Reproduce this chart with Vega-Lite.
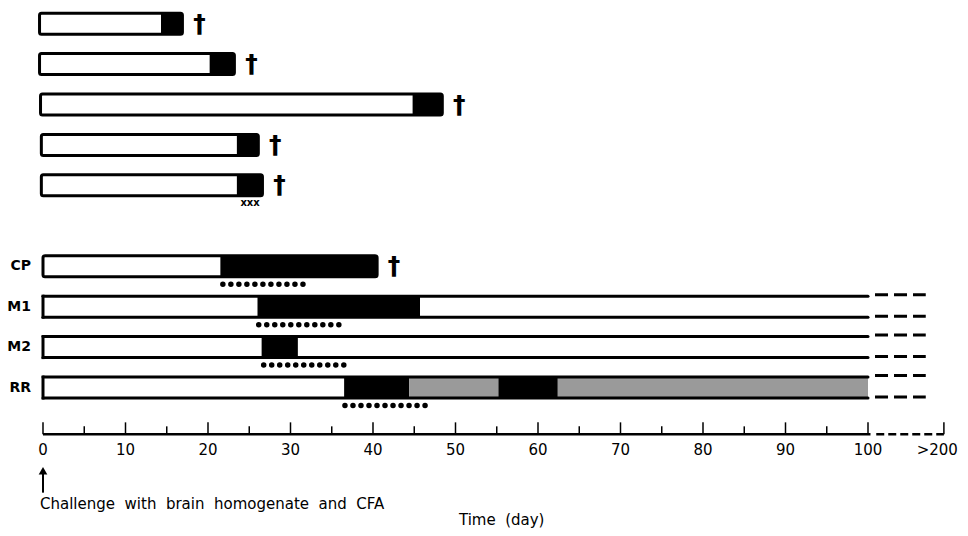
{
  "$schema": "https://vega.github.io/schema/vega-lite/v6.json",
  "width": 968,
  "height": 536,
  "autosize": {"type": "none"},
  "padding": 0,
  "background": "white",
  "config": {"view": {"stroke": null}, "text": {"font": "DejaVu Sans", "color": "black"}},
  "datasets": {
    "rows": [
      {"lane": 0, "label": "", "start": -0.42, "end": 16.9, "outcome": "died"},
      {"lane": 1, "label": "", "start": -0.42, "end": 23.2, "outcome": "died"},
      {"lane": 2, "label": "", "start": -0.3, "end": 48.4, "outcome": "died"},
      {"lane": 3, "label": "", "start": -0.2, "end": 26.1, "outcome": "died"},
      {"lane": 4, "label": "", "start": -0.2, "end": 26.6, "outcome": "died"},
      {"lane": 6, "label": "CP", "start": 0, "end": 40.5, "outcome": "died", "dotFrom": 21.8, "dotTo": 31.55},
      {"lane": 7, "label": "M1", "start": 0, "end": 100, "outcome": "survived", "dotFrom": 26.15, "dotTo": 35.9},
      {"lane": 8, "label": "M2", "start": 0, "end": 100, "outcome": "survived", "dotFrom": 26.75, "dotTo": 36.5},
      {"lane": 9, "label": "RR", "start": 0, "end": 100, "outcome": "survived", "dotFrom": 36.6, "dotTo": 46.5}
    ],
    "segments": [
      {"lane": 0, "from": -0.42, "to": 14.3, "state": "white"},
      {"lane": 0, "from": 14.3, "to": 16.9, "state": "black"},
      {"lane": 1, "from": -0.42, "to": 20.2, "state": "white"},
      {"lane": 1, "from": 20.2, "to": 23.2, "state": "black"},
      {"lane": 2, "from": -0.3, "to": 44.8, "state": "white"},
      {"lane": 2, "from": 44.8, "to": 48.4, "state": "black"},
      {"lane": 3, "from": -0.2, "to": 23.5, "state": "white"},
      {"lane": 3, "from": 23.5, "to": 26.1, "state": "black"},
      {"lane": 4, "from": -0.2, "to": 23.5, "state": "white"},
      {"lane": 4, "from": 23.5, "to": 26.6, "state": "black"},
      {"lane": 6, "from": 0, "to": 21.5, "state": "white"},
      {"lane": 6, "from": 21.5, "to": 40.5, "state": "black"},
      {"lane": 7, "from": 0, "to": 26.0, "state": "white"},
      {"lane": 7, "from": 26.0, "to": 45.7, "state": "black"},
      {"lane": 7, "from": 45.7, "to": 100, "state": "white"},
      {"lane": 8, "from": 0, "to": 26.5, "state": "white"},
      {"lane": 8, "from": 26.5, "to": 30.9, "state": "black"},
      {"lane": 8, "from": 30.9, "to": 100, "state": "white"},
      {"lane": 9, "from": 0, "to": 36.5, "state": "white"},
      {"lane": 9, "from": 36.5, "to": 44.4, "state": "black"},
      {"lane": 9, "from": 44.4, "to": 55.2, "state": "stipple"},
      {"lane": 9, "from": 55.2, "to": 62.4, "state": "black"},
      {"lane": 9, "from": 62.4, "to": 100, "state": "stipple"}
    ],
    "notes": [{"lane": 4, "day": 25.1, "text": "xxx"}],
    "ticks": [
      {"day": 0, "kind": "major"}, {"day": 5, "kind": "minor"}, {"day": 10, "kind": "major"}, {"day": 15, "kind": "minor"},
      {"day": 20, "kind": "major"}, {"day": 25, "kind": "minor"}, {"day": 30, "kind": "major"}, {"day": 35, "kind": "minor"},
      {"day": 40, "kind": "major"}, {"day": 45, "kind": "minor"}, {"day": 50, "kind": "major"}, {"day": 55, "kind": "minor"},
      {"day": 60, "kind": "major"}, {"day": 65, "kind": "minor"}, {"day": 70, "kind": "major"}, {"day": 75, "kind": "minor"},
      {"day": 80, "kind": "major"}, {"day": 85, "kind": "minor"}, {"day": 90, "kind": "major"}, {"day": 95, "kind": "minor"},
      {"day": 100, "kind": "major"}, {"day": 109.2, "kind": "major"}
    ],
    "tickLabels": [
      {"day": 0, "label": "0"}, {"day": 10, "label": "10"}, {"day": 20, "label": "20"}, {"day": 30, "label": "30"},
      {"day": 40, "label": "40"}, {"day": 50, "label": "50"}, {"day": 60, "label": "60"}, {"day": 70, "label": "70"},
      {"day": 80, "label": "80"}, {"day": 90, "label": "90"}, {"day": 100, "label": "100"}, {"day": 108.4, "label": ">200"}
    ],
    "single": [{}]
  },
  "layer": [
    {
      "data": {"name": "segments"},
      "mark": {"type": "bar", "size": 21, "orient": "horizontal", "strokeWidth": 0},
      "encoding": {
        "x": {"field": "from", "type": "quantitative", "scale": {"domain": [-5.2121, 112.1212], "nice": false, "zero": false}, "axis": null},
        "x2": {"field": "to"},
        "y": {"field": "lane", "type": "quantitative", "scale": {"domain": [-0.4612, 12.5485], "nice": false, "zero": false, "reverse": true}, "axis": null},
        "color": {"field": "state", "type": "nominal", "scale": {"domain": ["white", "black", "stipple"], "range": ["#ffffff", "#000000", "#9a9a9a"]}, "legend": null}
      }
    },
    {
      "data": {"name": "rows"},
      "transform": [{"filter": "datum.outcome === 'died'"}],
      "mark": {"type": "bar", "size": 21, "orient": "horizontal", "fill": "transparent", "stroke": "black", "strokeWidth": 3, "cornerRadius": 2},
      "encoding": {
        "x": {"field": "start", "type": "quantitative", "scale": {"domain": [-5.2121, 112.1212], "nice": false, "zero": false}, "axis": null},
        "x2": {"field": "end"},
        "y": {"field": "lane", "type": "quantitative", "scale": {"domain": [-0.4612, 12.5485], "nice": false, "zero": false, "reverse": true}, "axis": null}
      }
    },
    {
      "data": {"name": "rows"},
      "transform": [{"filter": "datum.outcome === 'survived'"}],
      "mark": {"type": "rule", "strokeWidth": 3, "strokeCap": "round", "color": "black", "yOffset": -10.5},
      "encoding": {
        "x": {"field": "start", "type": "quantitative", "scale": {"domain": [-5.2121, 112.1212], "nice": false, "zero": false}, "axis": null},
        "x2": {"field": "end"},
        "y": {"field": "lane", "type": "quantitative", "scale": {"domain": [-0.4612, 12.5485], "nice": false, "zero": false, "reverse": true}, "axis": null}
      }
    },
    {
      "data": {"name": "rows"},
      "transform": [{"filter": "datum.outcome === 'survived'"}],
      "mark": {"type": "rule", "strokeWidth": 3, "strokeCap": "round", "color": "black", "yOffset": 10.5},
      "encoding": {
        "x": {"field": "start", "type": "quantitative", "scale": {"domain": [-5.2121, 112.1212], "nice": false, "zero": false}, "axis": null},
        "x2": {"field": "end"},
        "y": {"field": "lane", "type": "quantitative", "scale": {"domain": [-0.4612, 12.5485], "nice": false, "zero": false, "reverse": true}, "axis": null}
      }
    },
    {
      "data": {"name": "rows"},
      "transform": [{"filter": "datum.outcome === 'survived'"}],
      "mark": {"type": "tick", "orient": "vertical", "size": 24, "thickness": 3, "color": "black", "opacity": 1},
      "encoding": {
        "x": {"field": "start", "type": "quantitative", "scale": {"domain": [-5.2121, 112.1212], "nice": false, "zero": false}, "axis": null},
        "y": {"field": "lane", "type": "quantitative", "scale": {"domain": [-0.4612, 12.5485], "nice": false, "zero": false, "reverse": true}, "axis": null}
      }
    },
    {
      "data": {"name": "rows"},
      "transform": [{"filter": "datum.outcome === 'survived'"}],
      "mark": {"type": "rule", "strokeWidth": 3, "strokeDash": [13, 6], "color": "black", "yOffset": -12},
      "encoding": {
        "x": {"datum": 100.85, "type": "quantitative", "scale": {"domain": [-5.2121, 112.1212], "nice": false, "zero": false}, "axis": null},
        "x2": {"datum": 107.0},
        "y": {"field": "lane", "type": "quantitative", "scale": {"domain": [-0.4612, 12.5485], "nice": false, "zero": false, "reverse": true}, "axis": null}
      }
    },
    {
      "data": {"name": "rows"},
      "transform": [{"filter": "datum.outcome === 'survived'"}],
      "mark": {"type": "rule", "strokeWidth": 3, "strokeDash": [13, 6], "color": "black", "yOffset": 9.5},
      "encoding": {
        "x": {"datum": 100.85, "type": "quantitative", "scale": {"domain": [-5.2121, 112.1212], "nice": false, "zero": false}, "axis": null},
        "x2": {"datum": 107.0},
        "y": {"field": "lane", "type": "quantitative", "scale": {"domain": [-0.4612, 12.5485], "nice": false, "zero": false, "reverse": true}, "axis": null}
      }
    },
    {
      "data": {"name": "rows"},
      "transform": [{"filter": "datum.dotFrom != null"}],
      "mark": {"type": "rule", "strokeWidth": 5.5, "strokeCap": "round", "strokeDash": [0.01, 8], "color": "black", "yOffset": 18},
      "encoding": {
        "x": {"field": "dotFrom", "type": "quantitative", "scale": {"domain": [-5.2121, 112.1212], "nice": false, "zero": false}, "axis": null},
        "x2": {"field": "dotTo"},
        "y": {"field": "lane", "type": "quantitative", "scale": {"domain": [-0.4612, 12.5485], "nice": false, "zero": false, "reverse": true}, "axis": null}
      }
    },
    {
      "data": {"name": "rows"},
      "transform": [{"filter": "datum.outcome === 'died'"}],
      "mark": {"type": "text", "text": "†", "fontSize": 25, "fontWeight": "bold", "dx": 17, "align": "center", "baseline": "middle"},
      "encoding": {
        "x": {"field": "end", "type": "quantitative", "scale": {"domain": [-5.2121, 112.1212], "nice": false, "zero": false}, "axis": null},
        "y": {"field": "lane", "type": "quantitative", "scale": {"domain": [-0.4612, 12.5485], "nice": false, "zero": false, "reverse": true}, "axis": null}
      }
    },
    {
      "data": {"name": "rows"},
      "transform": [{"filter": "datum.label !== ''"}],
      "mark": {"type": "text", "fontSize": 14, "fontWeight": "bold", "align": "right", "baseline": "middle"},
      "encoding": {
        "x": {"datum": -1.45, "type": "quantitative", "scale": {"domain": [-5.2121, 112.1212], "nice": false, "zero": false}, "axis": null},
        "y": {"field": "lane", "type": "quantitative", "scale": {"domain": [-0.4612, 12.5485], "nice": false, "zero": false, "reverse": true}, "axis": null},
        "text": {"field": "label"}
      }
    },
    {
      "data": {"name": "notes"},
      "mark": {"type": "text", "fontSize": 10, "fontWeight": "bold", "align": "center", "baseline": "middle", "yOffset": 18},
      "encoding": {
        "x": {"field": "day", "type": "quantitative", "scale": {"domain": [-5.2121, 112.1212], "nice": false, "zero": false}, "axis": null},
        "y": {"field": "lane", "type": "quantitative", "scale": {"domain": [-0.4612, 12.5485], "nice": false, "zero": false, "reverse": true}, "axis": null},
        "text": {"field": "text"}
      }
    },
    {
      "data": {"name": "single"},
      "mark": {"type": "rule", "strokeWidth": 2.5, "color": "black"},
      "encoding": {
        "x": {"datum": 0, "type": "quantitative", "scale": {"domain": [-5.2121, 112.1212], "nice": false, "zero": false}, "axis": null},
        "x2": {"datum": 100.3},
        "y": {"datum": 10.158, "type": "quantitative", "scale": {"domain": [-0.4612, 12.5485], "nice": false, "zero": false, "reverse": true}, "axis": null}
      }
    },
    {
      "data": {"name": "single"},
      "mark": {"type": "rule", "strokeWidth": 2.5, "strokeDash": [8, 4], "color": "black"},
      "encoding": {
        "x": {"datum": 101.0, "type": "quantitative", "scale": {"domain": [-5.2121, 112.1212], "nice": false, "zero": false}, "axis": null},
        "x2": {"datum": 109.2},
        "y": {"datum": 10.158, "type": "quantitative", "scale": {"domain": [-0.4612, 12.5485], "nice": false, "zero": false, "reverse": true}, "axis": null}
      }
    },
    {
      "data": {"name": "ticks"},
      "transform": [{"filter": "datum.kind === 'major'"}],
      "mark": {"type": "tick", "orient": "vertical", "size": 12, "thickness": 1.5, "color": "black", "opacity": 1, "yOffset": -6},
      "encoding": {
        "x": {"field": "day", "type": "quantitative", "scale": {"domain": [-5.2121, 112.1212], "nice": false, "zero": false}, "axis": null},
        "y": {"datum": 10.158, "type": "quantitative", "scale": {"domain": [-0.4612, 12.5485], "nice": false, "zero": false, "reverse": true}, "axis": null}
      }
    },
    {
      "data": {"name": "ticks"},
      "transform": [{"filter": "datum.kind === 'minor'"}],
      "mark": {"type": "tick", "orient": "vertical", "size": 8, "thickness": 1.5, "color": "black", "opacity": 1, "yOffset": -4},
      "encoding": {
        "x": {"field": "day", "type": "quantitative", "scale": {"domain": [-5.2121, 112.1212], "nice": false, "zero": false}, "axis": null},
        "y": {"datum": 10.158, "type": "quantitative", "scale": {"domain": [-0.4612, 12.5485], "nice": false, "zero": false, "reverse": true}, "axis": null}
      }
    },
    {
      "data": {"name": "tickLabels"},
      "mark": {"type": "text", "fontSize": 15, "align": "center", "baseline": "middle", "yOffset": 15.5},
      "encoding": {
        "x": {"field": "day", "type": "quantitative", "scale": {"domain": [-5.2121, 112.1212], "nice": false, "zero": false}, "axis": null},
        "y": {"datum": 10.158, "type": "quantitative", "scale": {"domain": [-0.4612, 12.5485], "nice": false, "zero": false, "reverse": true}, "axis": null},
        "text": {"field": "label"}
      }
    },
    {
      "data": {"name": "single"},
      "mark": {"type": "rule", "strokeWidth": 2, "color": "black"},
      "encoding": {
        "x": {"datum": 0, "type": "quantitative", "scale": {"domain": [-5.2121, 112.1212], "nice": false, "zero": false}, "axis": null},
        "y": {"datum": 11.6, "type": "quantitative", "scale": {"domain": [-0.4612, 12.5485], "nice": false, "zero": false, "reverse": true}, "axis": null},
        "y2": {"datum": 11.1}
      }
    },
    {
      "data": {"name": "single"},
      "mark": {"type": "point", "shape": "triangle-up", "size": 75, "filled": true, "color": "black", "opacity": 1},
      "encoding": {
        "x": {"datum": 0, "type": "quantitative", "scale": {"domain": [-5.2121, 112.1212], "nice": false, "zero": false}, "axis": null},
        "y": {"datum": 11.06, "type": "quantitative", "scale": {"domain": [-0.4612, 12.5485], "nice": false, "zero": false, "reverse": true}, "axis": null}
      }
    },
    {
      "data": {"name": "single"},
      "mark": {"type": "text", "fontSize": 15, "align": "left", "baseline": "middle", "text": "Challenge\u00a0\u00a0with\u00a0 brain\u00a0 homogenate\u00a0 and\u00a0 CFA"},
      "encoding": {
        "x": {"datum": -0.36, "type": "quantitative", "scale": {"domain": [-5.2121, 112.1212], "nice": false, "zero": false}, "axis": null},
        "y": {"datum": 11.89, "type": "quantitative", "scale": {"domain": [-0.4612, 12.5485], "nice": false, "zero": false, "reverse": true}, "axis": null}
      }
    },
    {
      "data": {"name": "single"},
      "mark": {"type": "text", "fontSize": 15, "align": "center", "baseline": "middle", "text": "Time\u00a0 (day)"},
      "encoding": {
        "x": {"datum": 55.6, "type": "quantitative", "scale": {"domain": [-5.2121, 112.1212], "nice": false, "zero": false}, "axis": null},
        "y": {"datum": 12.28, "type": "quantitative", "scale": {"domain": [-0.4612, 12.5485], "nice": false, "zero": false, "reverse": true}, "axis": null}
      }
    }
  ]
}
